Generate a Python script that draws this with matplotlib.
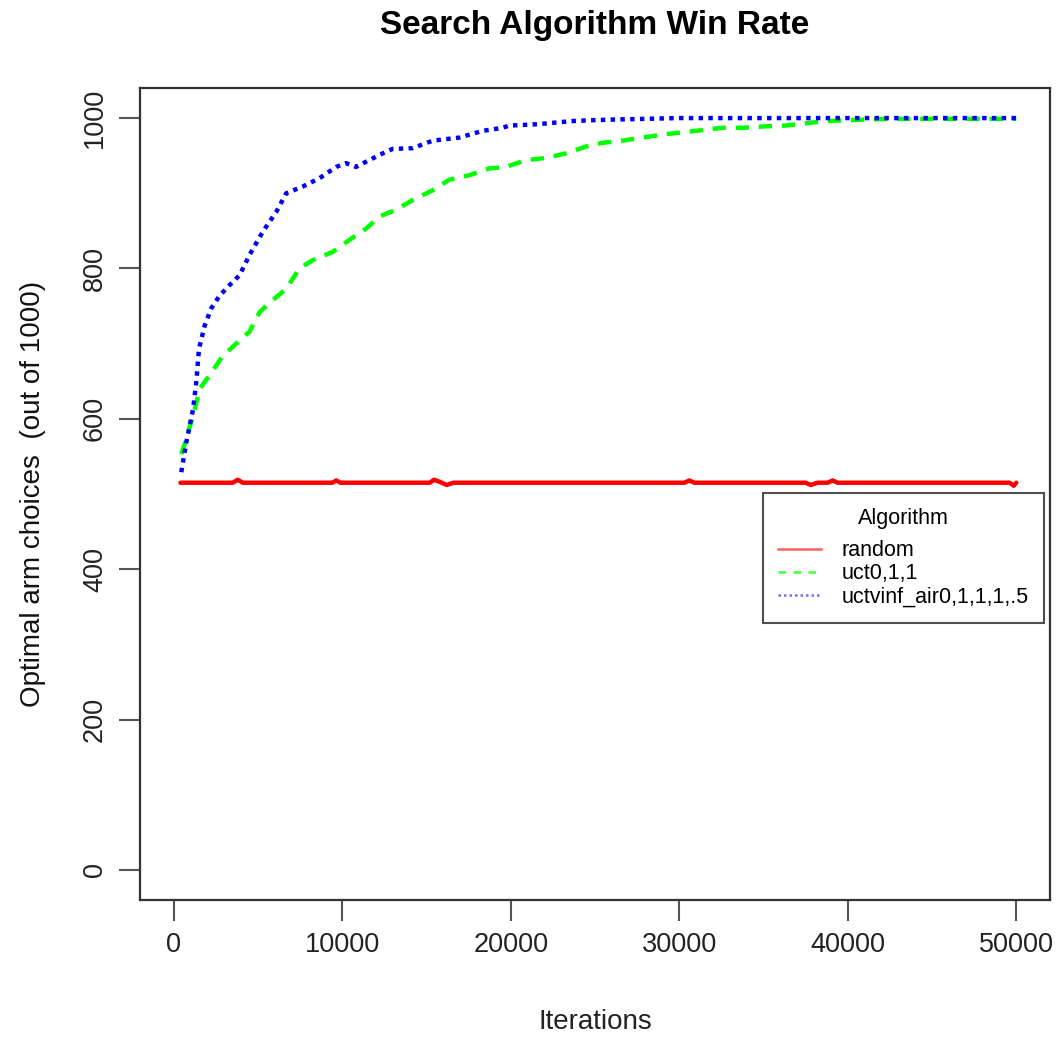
import matplotlib
matplotlib.use("Agg")
import matplotlib.pyplot as plt
from matplotlib.lines import Line2D

plt.rcParams['font.family'] = ['Liberation Sans', 'DejaVu Sans']

title = "Search Algorithm Win Rate"
xlabel = "Iterations"
ylabel = "Optimal arm choices  (out of 1000)"
legend_title = "Algorithm"
series_names = ["random", "uct0,1,1", "uctvinf_air0,1,1,1,.5"]

random_x = [400, 3500, 3800, 4100, 9400, 9650, 9900, 15200, 15450, 15800, 16200, 16600,
            30300, 30600, 30900, 37500, 37800, 38200, 38800, 39100, 39400, 49600, 49850, 50000]
random_y = [515, 515, 519, 515, 515, 518, 515, 515, 519, 516, 512, 515,
            515, 518, 515, 515, 512, 515, 515, 518, 515, 515, 511, 515]

uct_x = [450, 750, 1250, 1550, 2130, 2920, 3610, 4500, 5100, 5880, 6680, 7460, 8250, 9440,
         10430, 11420, 12200, 13190, 14180, 15370, 16350, 17540, 18720, 19710, 20900, 22080,
         23270, 24450, 25430, 26620, 27800, 28990, 30170, 31360, 32540, 33730, 35110, 36290,
         37480, 38660, 39850, 41030, 42500, 45000, 47500, 50000]
uct_y = [553, 573, 613, 640, 658, 684, 698, 716, 742, 758, 773, 800, 811, 822,
         838, 853, 869, 878, 891, 904, 918, 924, 933, 935, 944, 947,
         953, 962, 967, 970, 974, 978, 981, 984, 987, 987, 989, 990,
         993, 996, 997, 998, 999, 999, 999, 999]

vinf_x = [450, 750, 1150, 1340, 1500, 1840, 2230, 2730, 3320, 3910, 4500, 5290, 6080, 6680,
          7660, 8650, 9640, 10230, 10820, 11420, 12400, 12990, 14180, 15370, 16940, 18330,
          19510, 19900, 21680, 23650, 24640, 26000, 28000, 30000, 35000, 40000, 45000, 50000]
vinf_y = [529, 569, 613, 649, 693, 724, 747, 764, 778, 791, 818, 849, 875, 900,
          909, 920, 935, 940, 935, 942, 953, 959, 960, 970, 974, 983,
          987, 990, 992, 996, 997, 998, 999, 1000, 1000, 1000, 1000, 1000]

xticks = [0, 10000, 20000, 30000, 40000, 50000]
yticks = [0, 200, 400, 600, 800, 1000]

fig = plt.figure(figsize=(10.61, 10.37), dpi=100)
ax = fig.add_axes([140/1061, 1-900/1037, 910/1061, 812/1037])

ax.plot(random_x, random_y, color='#ff0000', lw=3.2, solid_capstyle='round', solid_joinstyle='round')
ax.plot(uct_x, uct_y, color='#00ff00', lw=3.2, linestyle=(0, (3, 2.2)))
ax.plot(vinf_x, vinf_y, color='#0000ff', lw=3.2, linestyle=(0, (1, 1.2)))

ax.set_xlim(-2000, 52000)
ax.set_ylim(-40, 1040)
ax.set_xticks(xticks)
ax.set_yticks(yticks)
ax.set_xticklabels([str(v) for v in xticks], fontsize=19.5, color='#222222')
ax.set_yticklabels([str(v) for v in yticks], fontsize=19.5, rotation=90, va='center', color='#222222')
ax.tick_params(axis='both', direction='out', length=15, width=1.5, color='#555555', pad=8)
for s in ax.spines.values():
    s.set_linewidth(1.6)
    s.set_color('#333333')

ax.set_title(title, fontsize=24, fontweight='bold', pad=39)
ax.set_xlabel(xlabel, fontsize=20, labelpad=37, color='#222222')
ax.set_ylabel(ylabel, fontsize=20, labelpad=26, color='#111111')

handles = [Line2D([], [], color='#ff6060', lw=1.8),
           Line2D([], [], color='#40ff40', lw=1.8, linestyle=(0, (3, 3))),
           Line2D([], [], color='#7070ff', lw=1.8, linestyle=(0, (1, 1.2)))]
leg = ax.legend(handles, series_names, title=legend_title, loc='upper left',
                bbox_to_anchor=(0.6846, 0.5012), fontsize=15.5, title_fontsize=15.5,
                frameon=True, fancybox=False, handlelength=2.0, borderpad=0.7,
                labelspacing=0.1, handletextpad=0.95, borderaxespad=0)
leg.get_frame().set_edgecolor('#222222')
leg.get_frame().set_linewidth(1.5)
leg._legend_box.sep = 8

fig.savefig("out.png", dpi=100)
